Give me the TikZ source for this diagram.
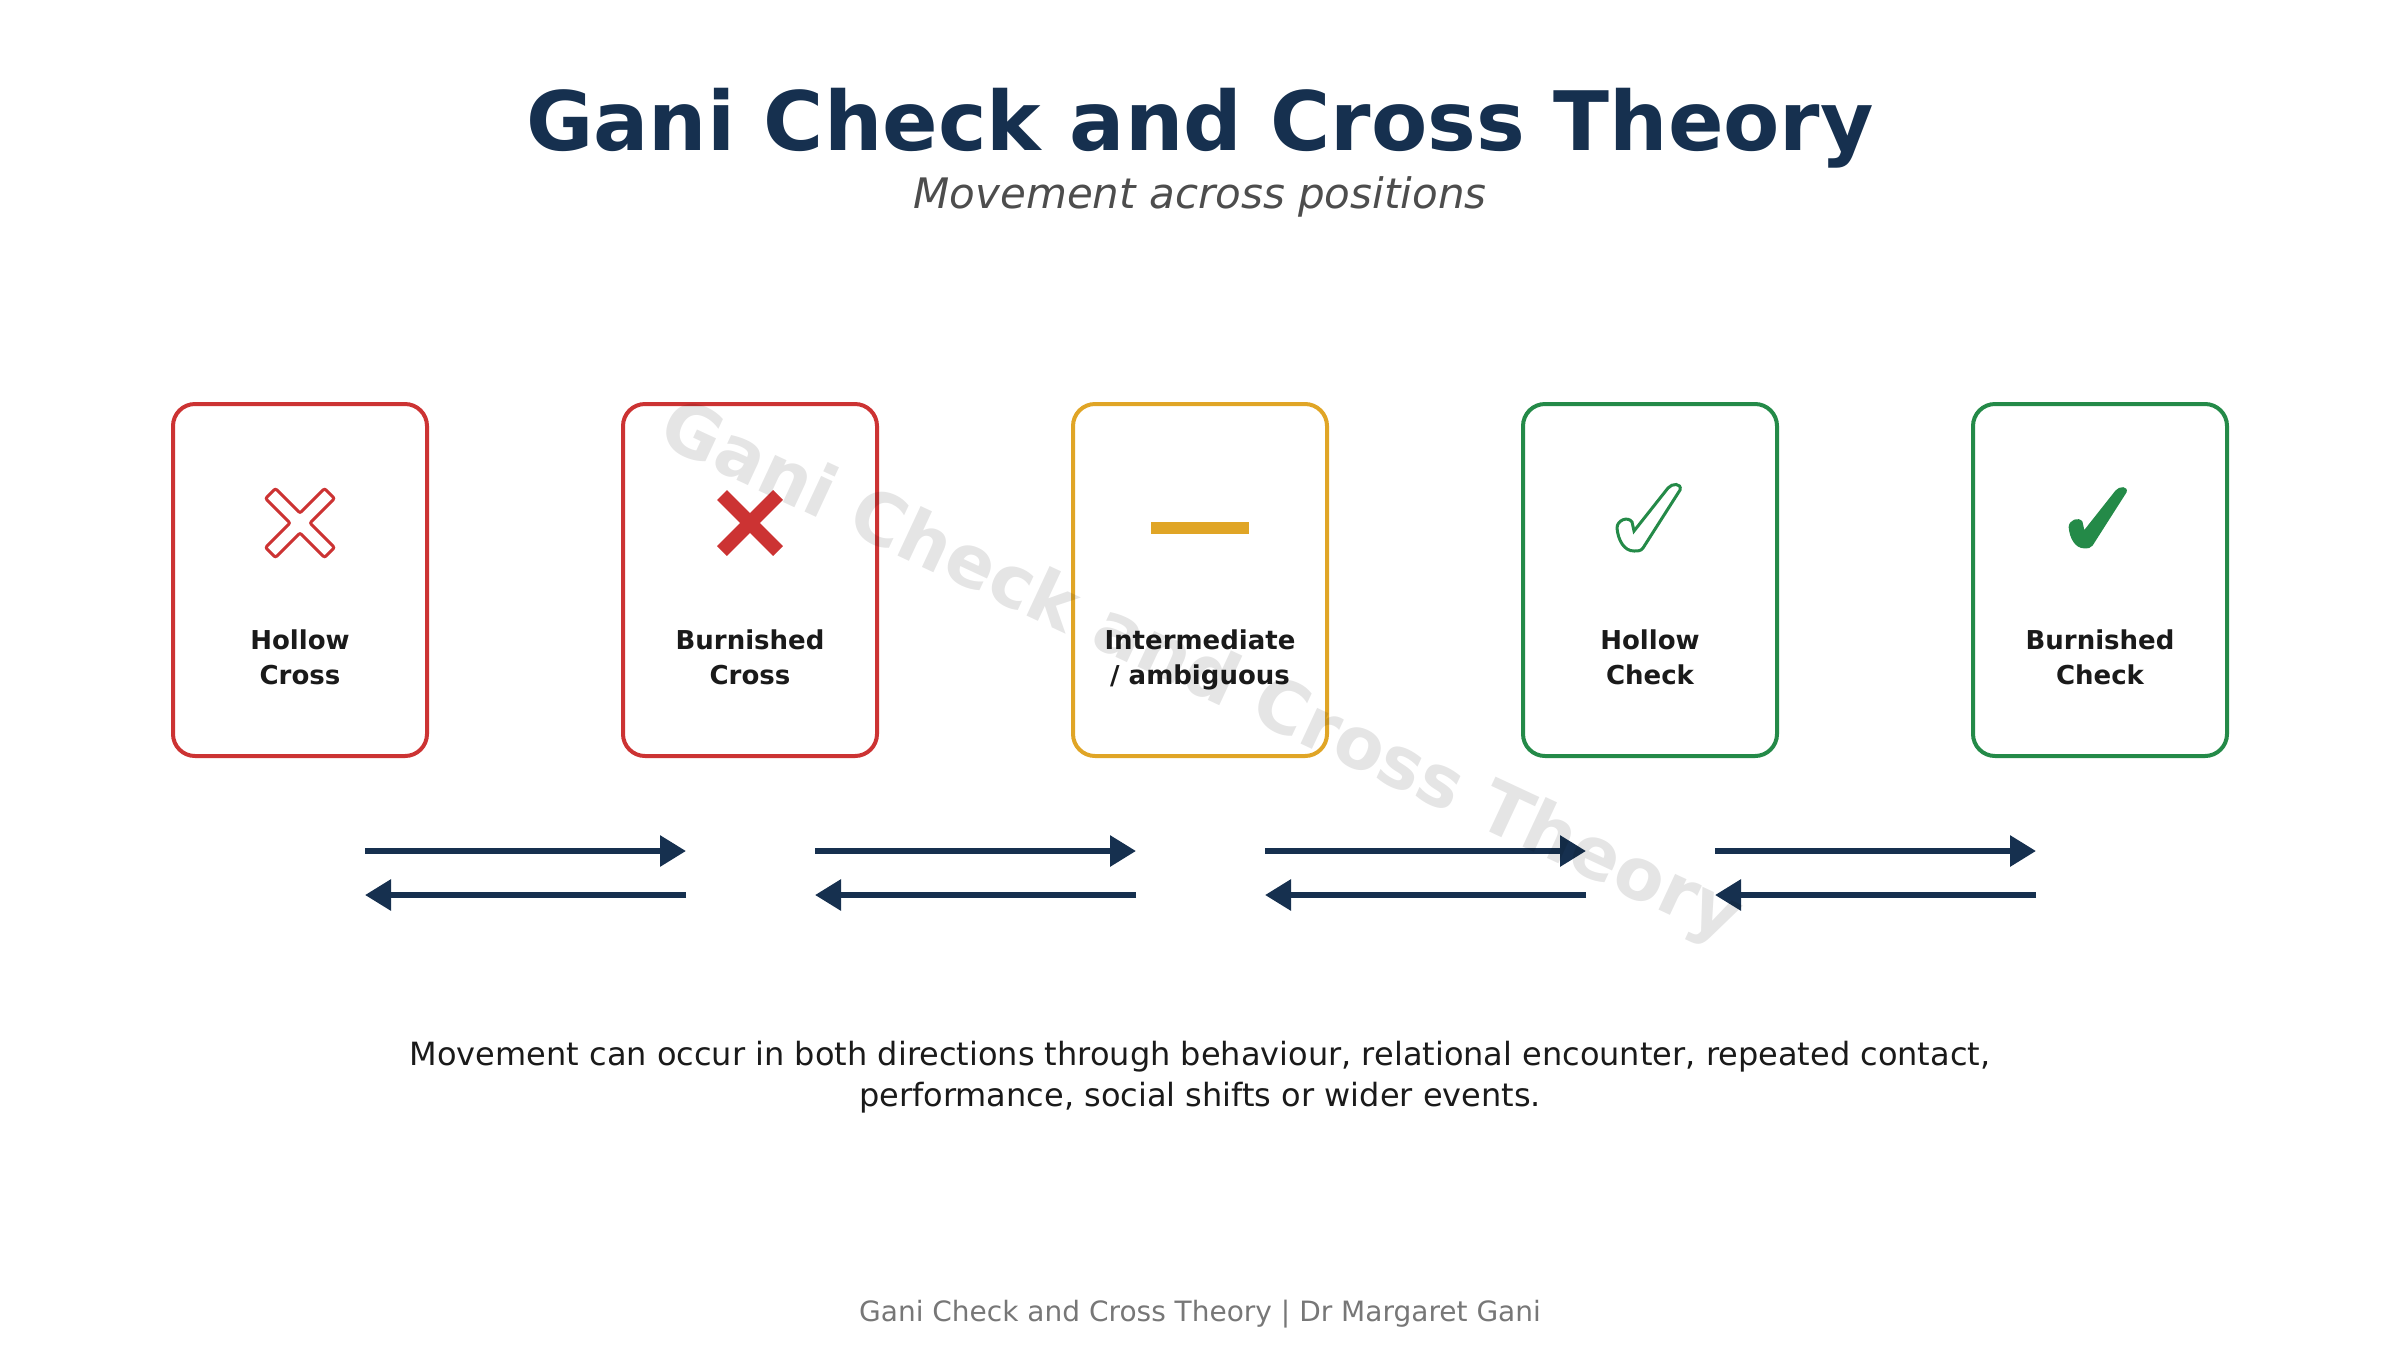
\documentclass[tikz,border=0pt]{standalone}
\usepackage{fontspec}
\setmainfont{DejaVu Sans}
\usetikzlibrary{arrows.meta,calc}
\definecolor{navy}{HTML}{16304F}
\definecolor{crossred}{HTML}{CC3333}
\definecolor{ambig}{HTML}{E0A526}
\definecolor{checkgreen}{HTML}{248A48}
\definecolor{ink}{HTML}{1A1A1A}
\definecolor{subgray}{HTML}{4D4D4D}
\definecolor{footgray}{HTML}{777777}
\def\checkshape{(-16,33) .. controls (-26,33) and (-32,22) .. (-33,10) .. controls (-33,2) and (-22,-2) .. (-18,4) -- (-16,13) -- (18,-30) .. controls (22,-35) and (32,-35) .. (30,-28) -- (-7,30) .. controls (-9,33) and (-12,33) .. cycle}
\begin{document}
\begin{tikzpicture}[x=1pt,y=-1pt]
            \tikzset{box/.style={draw, line width=4pt, rounded corners=22pt, minimum width=254pt, minimum height=352pt, inner sep=0pt},
                     lbl/.style={font=\fontsize{26}{35}\selectfont\bfseries, text=ink, align=center, text depth=7pt},
                     flow/.style={navy, line width=6pt, -{Triangle[length=26pt,width=30pt]}}}
            \useasboundingbox (0,0) rectangle (2400,1350);
            \node [anchor=base, text=navy, font=\fontsize{82}{98}\selectfont\bfseries] (title) at (1200,150) {Gani Check and Cross Theory};
            \node [anchor=base, text=subgray, font=\fontsize{42}{50}\selectfont\itshape] (sub) at (1200,208) {Movement across positions};
            \node [box, crossred] (b1) at (300,580) {};
            \node [box, crossred] (b2) at (750,580) {};
            \node [box, ambig] (b3) at (1200,580) {};
            \node [box, checkgreen] (b4) at (1650,580) {};
            \node [box, checkgreen] (b5) at (2100,580) {};
            \node [lbl] (l1) at (300,661) {Hollow\\Cross};
            \node [lbl] (l2) at (750,661) {Burnished\\Cross};
            \node [lbl] (l3) at (1200,661) {Intermediate\\/ ambiguous};
            \node [lbl] (l4) at (1650,661) {Hollow\\Check};
            \node [lbl] (l5) at (2100,661) {Burnished\\Check};
            \begin{scope}[shift={(300,523)}]
                \draw [crossred, line width=3pt, rounded corners=2pt] (0,-9.9) -- (24.6,-34.5) -- (34.5,-24.6) -- (9.9,0) -- (34.5,24.6) -- (24.6,34.5) -- (0,9.9) -- (-24.6,34.5) -- (-34.5,24.6) -- (-9.9,0) -- (-34.5,-24.6) -- (-24.6,-34.5) -- cycle;
            \end{scope}
            \draw [crossred, line width=14pt] (722,495) -- (778,551) (722,551) -- (778,495);
            \fill [ambig] (1151,522) rectangle (1249,534);
            \begin{scope}[shift={(1650,518)}]
                \draw [checkgreen, line width=3pt] \checkshape;
            \end{scope}
            \begin{scope}[shift={(2099,518)}, scale=0.92]
                \fill [checkgreen] \checkshape;
            \end{scope}
            \foreach \i [evaluate=\i as \j using int(\i+1)] in {1,...,4} {
                \draw [flow] ($(b\i.south)+(65,93)$) -- ($(b\j.south)+(-64,93)$);
                \draw [flow] ($(b\j.south)+(-64,137)$) -- ($(b\i.south)+(65,137)$);
            }
            \node [text=ink, align=center, font=\fontsize{32}{41}\selectfont] (note) at (1200,1077) {Movement can occur in both directions through behaviour, relational encounter, repeated contact,\\performance, social shifts or wider events.};
            \node [anchor=base, text=footgray, font=\fontsize{28}{34}\selectfont] (foot) at (1200,1321) {Gani Check and Cross Theory | Dr Margaret Gani};
            \node [rotate=-25, text=black, opacity=0.1, font=\fontsize{72}{86}\selectfont\bfseries] (mark) at (1200,675) {Gani Check and Cross Theory};
        \end{tikzpicture}
\end{document}
